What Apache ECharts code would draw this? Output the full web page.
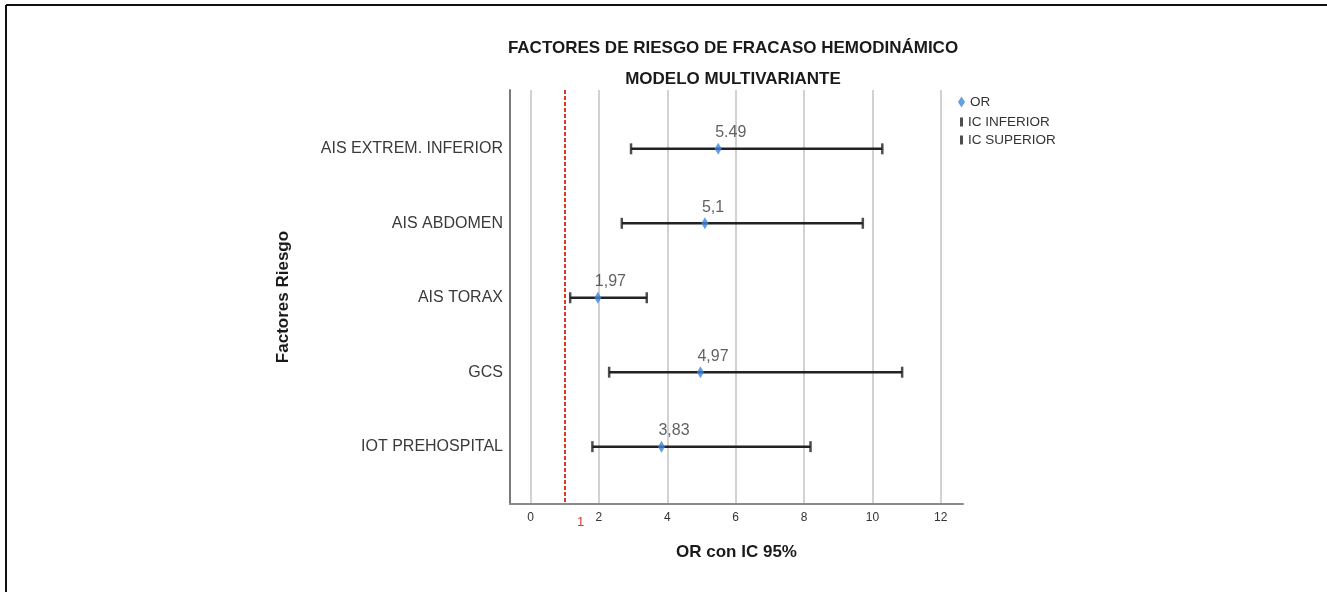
<!DOCTYPE html>
<html>
<head>
<meta charset="utf-8">
<script src="https://cdn.jsdelivr.net/npm/echarts@6/dist/echarts.min.js"></script>
<style>
html,body{margin:0;padding:0;background:#fff;}
#c{width:1327px;height:592px;}
</style>
</head>
<body>
<div id="c"></div>
<script>
// Data
const categories = ['AIS EXTREM. INFERIOR', 'AIS ABDOMEN', 'AIS TORAX', 'GCS', 'IOT PREHOSPITAL'];
const orValues = [5.49, 5.1, 1.97, 4.97, 3.83];
const orLabels = ['5.49', '5,1', '1,97', '4,97', '3,83'];
const icInferior = [2.94, 2.67, 1.16, 2.30, 1.81];
const icSuperior = [10.29, 9.72, 3.40, 10.87, 8.19];
const xTicks = [0, 2, 4, 6, 8, 10, 12];
const yTicks = [0, 1, 2, 3, 4];
const refValue = 1;

const chart = echarts.init(document.getElementById('c'));

const barData = categories.map((c, i) => [icInferior[i], icSuperior[i], i]);

const option = {
  animation: false,
  backgroundColor: '#fff',
  graphic: [
    { type: 'line', shape: { x1: 6, y1: 5, x2: 1327, y2: 5 }, style: { stroke: '#111', lineWidth: 2 } },
    { type: 'line', shape: { x1: 6, y1: 5, x2: 6, y2: 592 }, style: { stroke: '#111', lineWidth: 2 } }
  ],
  title: [
    { text: 'FACTORES DE RIESGO DE FRACASO HEMODINÁMICO', left: 728, top: 35, textAlign: 'center',
      textStyle: { fontFamily: 'Liberation Sans', fontWeight: 'bold', fontSize: 17, color: '#1a1a1a' } },
    { text: 'MODELO MULTIVARIANTE', left: 728, top: 66, textAlign: 'center',
      textStyle: { fontFamily: 'Liberation Sans', fontWeight: 'bold', fontSize: 17, color: '#1a1a1a' } }
  ],
  legend: [
    { data: [{ name: 'OR', icon: 'diamond' }], orient: 'vertical', left: 953, top: 90,
      itemWidth: 7, itemHeight: 11, itemGap: 6,
      textStyle: { fontFamily: 'Liberation Sans', fontSize: 13.5, color: '#333' } },
    { data: [{ name: 'IC INFERIOR', icon: 'rect' }, { name: 'IC SUPERIOR', icon: 'rect' }], orient: 'vertical', left: 955, top: 110,
      itemWidth: 3, itemHeight: 9, itemGap: 4,
      textStyle: { fontFamily: 'Liberation Sans', fontSize: 13.5, color: '#333' } }
  ],
  grid: { left: 510, right: 364, top: 90, bottom: 88, containLabel: false },
  xAxis: {
    type: 'value', min: -0.6, max: 12.65,
    name: 'OR con IC 95%', nameLocation: 'middle', nameGap: 40,
    nameTextStyle: { fontFamily: 'Liberation Sans', fontWeight: 'bold', fontSize: 17, color: '#1a1a1a' },
    axisLine: { show: true, onZero: false, lineStyle: { color: '#8a8a8a', width: 2 } },
    axisTick: { show: false, customValues: xTicks },
    axisLabel: { customValues: xTicks, margin: 8, fontFamily: 'Liberation Sans', fontSize: 12, color: '#333' },
    splitLine: { show: true, lineStyle: { color: '#d2d2d2', width: 2 } }
  },
  yAxis: {
    type: 'value', min: -0.79, max: 4.77, inverse: true,
    name: 'Factores Riesgo', nameLocation: 'middle', nameGap: 218, nameRotate: 90,
    nameTextStyle: { fontFamily: 'Liberation Sans', fontWeight: 'bold', fontSize: 17, color: '#1a1a1a' },
    axisLine: { show: true, onZero: false, lineStyle: { color: '#7a7a7a', width: 2 } },
    axisTick: { show: false, customValues: yTicks },
    axisLabel: { customValues: yTicks, margin: 7, fontFamily: 'Liberation Sans', fontSize: 16, color: '#3a3a3a',
      padding: [3, 0, 0, 0],
      formatter: v => categories[Math.round(v)] || '' },
    splitLine: { show: false }
  },
  series: [
    {
      name: 'IC', type: 'custom', silent: true, z: 2,
      data: barData,
      renderItem: (params, api) => {
        const a = api.coord([api.value(0), api.value(2)]);
        const b = api.coord([api.value(1), api.value(2)]);
        return { type: 'line', shape: { x1: a[0], y1: a[1], x2: b[0], y2: b[1] },
          style: { stroke: '#222', lineWidth: 2.5 } };
      }
    },
    {
      name: 'IC INFERIOR', type: 'scatter', z: 3,
      symbol: 'rect', symbolSize: [2.5, 11],
      itemStyle: { color: '#222' },
      data: icInferior.map((v, i) => [v, i])
    },
    {
      name: 'IC SUPERIOR', type: 'scatter', z: 3,
      symbol: 'rect', symbolSize: [2.5, 11],
      itemStyle: { color: '#222' },
      data: icSuperior.map((v, i) => [v, i])
    },
    {
      name: 'OR', type: 'scatter', z: 4,
      symbol: 'diamond', symbolSize: [7, 12],
      itemStyle: { color: '#3f86d8' },
      label: { show: true, position: 'top', align: 'left', offset: [-3, 2], distance: 4,
        fontFamily: 'Liberation Sans', fontSize: 16, color: '#3a3a3a',
        formatter: p => orLabels[p.dataIndex] },
      data: orValues.map((v, i) => [v, i]),
      markLine: {
        silent: true, symbol: 'none',
        lineStyle: { color: '#e0352b', type: [4, 2], width: 2 },
        label: { show: true, position: 'end', formatter: String(refValue), offset: [16, 7],
          fontFamily: 'Liberation Sans', fontSize: 13, color: '#e0352b' },
        data: [{ xAxis: refValue }]
      }
    }
  ]
};
chart.setOption(option);
</script>
</body>
</html>
